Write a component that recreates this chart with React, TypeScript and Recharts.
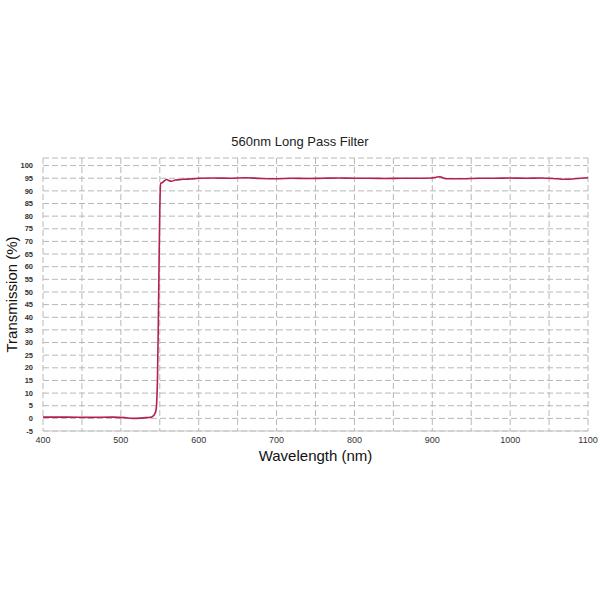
import { LineChart, Line, XAxis, YAxis, CartesianGrid } from 'recharts';

const wavelength = [
  400, 430, 460, 490, 505, 515, 525, 532, 538, 541, 543, 545, 546, 547, 548, 549, 550, 551,
  553, 556, 559, 562, 565, 570, 575, 580, 590, 600, 620, 640, 660, 680, 700, 720, 740, 760,
  780, 800, 820, 840, 860, 880, 900, 905, 910, 915, 920, 940, 960, 980, 1000, 1020, 1040,
  1060, 1070, 1080, 1090, 1100,
];
const transmission = [
  0.5, 0.5, 0.4, 0.5, 0.3, 0.0, 0.1, 0.3, 0.4, 0.8, 1.5, 3, 6, 15, 35, 60, 82, 93,
  93.2, 94.0, 94.5, 94.0, 93.8, 94.3, 94.4, 94.6, 94.7, 95.0, 95.1, 95.0, 95.2, 94.9, 94.8, 95.0, 94.9, 95.0,
  95.1, 95.0, 95.0, 94.9, 95.0, 95.0, 95.1, 95.4, 95.6, 95.0, 94.8, 94.8, 95.0, 95.0, 95.1, 95.0, 95.1,
  94.8, 94.6, 94.7, 95.0, 95.2,
];
const xTicks = [400, 450, 500, 550, 600, 650, 700, 750, 800, 850, 900, 950, 1000, 1050, 1100];
const yTicks = [-5, 0, 5, 10, 15, 20, 25, 30, 35, 40, 45, 50, 55, 60, 65, 70, 75, 80, 85, 90, 95, 100];

const data = wavelength.map((w, i) => ({ w, t: transmission[i] }));

export default function App() {
  return (
    <div style={{ position: 'absolute', left: 0, top: 0, width: 600, height: 600, background: '#fff', fontFamily: 'Arial, "Liberation Sans", sans-serif' }}>
      <div style={{ position: 'absolute', top: 134, left: 0, width: 600, textAlign: 'center', fontSize: 13, color: '#222' }}>
        560nm Long Pass Filter
      </div>
      <LineChart width={600} height={600} data={data} margin={{ top: 158, right: 12, bottom: 133, left: 0 }}>
        <CartesianGrid stroke="#b8b8b8" strokeDasharray="6 3" />
        <XAxis
          dataKey="w"
          type="number"
          domain={[400, 1100]}
          ticks={xTicks}
          interval={0}
          tickFormatter={(v: number) => (v % 100 === 0 ? String(v) : '')}
          height={36}
          stroke="#c8c8c8"
          tickLine={false}
          tick={{ fontSize: 9, fill: '#333' }}
          tickMargin={0}
          label={{ value: 'Wavelength (nm)', position: 'insideBottom', offset: 6, style: { fontSize: 15, fill: '#111' } }}
        />
        <YAxis
          type="number"
          domain={[-5, 103]}
          ticks={yTicks}
          interval={0}
          width={43}
          axisLine={false}
          tickLine={false}
          tick={{ fontSize: 7.5, fill: '#333', fontWeight: 'bold' }}
          tickMargin={4}
          label={{ value: 'Transmission (%)', angle: -90, position: 'insideLeft', offset: 12, style: { fontSize: 15, fill: '#111', textAnchor: 'middle' } }}
        />
        <Line
          type="monotone"
          dataKey="t"
          stroke="#b3204f"
          strokeWidth={1.6}
          dot={false}
          isAnimationActive={false}
        />
      </LineChart>
    </div>
  );
}
